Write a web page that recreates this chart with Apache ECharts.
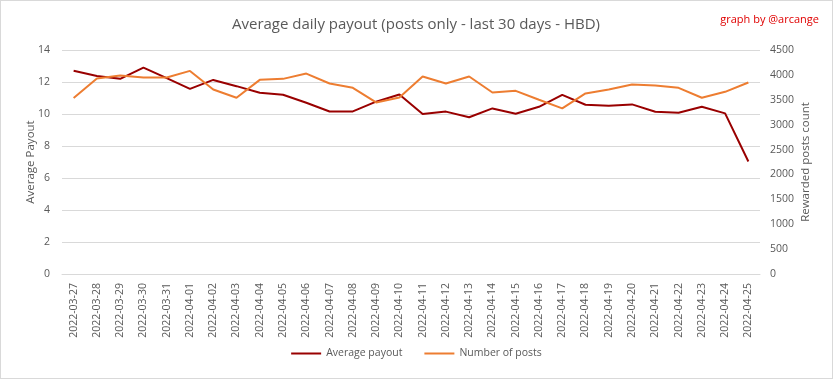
<!DOCTYPE html>
<html><head><meta charset="utf-8">
<script src="https://cdn.jsdelivr.net/npm/echarts@6/dist/echarts.min.js"></script>
<style>html,body{margin:0;padding:0;background:#fff}#c{width:831px;height:377px;border:1px solid #d9d9d9}</style>
</head><body><div id="c"></div>
<script>
const categories = ["2022-03-27","2022-03-28","2022-03-29","2022-03-30","2022-03-31","2022-04-01","2022-04-02","2022-04-03","2022-04-04","2022-04-05","2022-04-06","2022-04-07","2022-04-08","2022-04-09","2022-04-10","2022-04-11","2022-04-12","2022-04-13","2022-04-14","2022-04-15","2022-04-16","2022-04-17","2022-04-18","2022-04-19","2022-04-20","2022-04-21","2022-04-22","2022-04-23","2022-04-24","2022-04-25"];
const avgPayout = [12.7,12.38,12.2,12.9,12.24,11.57,12.13,11.74,11.33,11.2,10.7,10.16,10.16,10.77,11.22,10.0,10.15,9.8,10.35,10.02,10.45,11.2,10.58,10.52,10.6,10.14,10.08,10.45,10.04,7.03];
const postCount = [3534,3927,3987,3947,3947,4080,3707,3540,3900,3920,4027,3827,3740,3447,3547,3967,3827,3967,3647,3680,3500,3327,3627,3707,3807,3787,3740,3540,3660,3847];
const leftTicks = {min:0,max:14,interval:2};
const rightTicks = {min:0,max:4500,interval:500};

const font = "'Open Sans', 'Liberation Sans', sans-serif";
const txt = '#595959';
const chart = echarts.init(document.getElementById('c'));
chart.setOption({
  animation:false,
  textStyle:{fontFamily:font},
  title:[
    {text:'Average daily payout (posts only - last 30 days - HBD)',left:410,top:11,textAlign:'center',textStyle:{fontSize:15,fontWeight:'normal',color:txt,fontFamily:font}},
    {text:'graph by @arcange',right:8,top:8,textStyle:{fontSize:11,fontWeight:'normal',color:'#e00000',fontFamily:font}}
  ],
  legend:{bottom:14,left:'center',itemWidth:30,itemHeight:2,itemGap:22,icon:'rect',
    textStyle:{fontSize:10.5,color:txt,fontFamily:font},
    data:['Average payout','Number of posts']},
  grid:{left:61,right:72,top:49,bottom:104},
  xAxis:{type:'category',data:categories,boundaryGap:true,
    axisLine:{lineStyle:{color:'#d9d9d9'}},axisTick:{show:false},
    axisLabel:{rotate:90,interval:0,fontSize:10.5,color:txt,margin:9,fontFamily:font}},
  yAxis:[
    {type:'value',min:leftTicks.min,max:leftTicks.max,interval:leftTicks.interval,name:'Average Payout',
     nameLocation:'middle',nameGap:25,nameMoveOverlap:false,nameRotate:90,nameTextStyle:{fontSize:11.5,color:txt,fontFamily:font},
     axisLabel:{fontSize:10.5,color:txt,margin:12,fontFamily:font},axisLine:{show:false},axisTick:{show:false},
     splitLine:{lineStyle:{color:'#d9d9d9'}}},
    {type:'value',min:rightTicks.min,max:rightTicks.max,interval:rightTicks.interval,name:'Rewarded posts count',
     nameLocation:'middle',nameGap:40,nameMoveOverlap:false,nameRotate:90,nameTextStyle:{fontSize:11.5,color:txt,fontFamily:font},
     axisLabel:{fontSize:10.5,color:txt,margin:10,fontFamily:font,formatter:v=>String(v)},axisLine:{show:false},axisTick:{show:false},
     splitLine:{show:false}}
  ],
  series:[
    {name:'Average payout',type:'line',data:avgPayout,yAxisIndex:0,symbol:'none',
     lineStyle:{color:'#990000',width:2},itemStyle:{color:'#990000'}},
    {name:'Number of posts',type:'line',data:postCount,yAxisIndex:1,symbol:'none',
     lineStyle:{color:'#ED7D31',width:2},itemStyle:{color:'#ED7D31'}}
  ]
});
</script></body></html>
